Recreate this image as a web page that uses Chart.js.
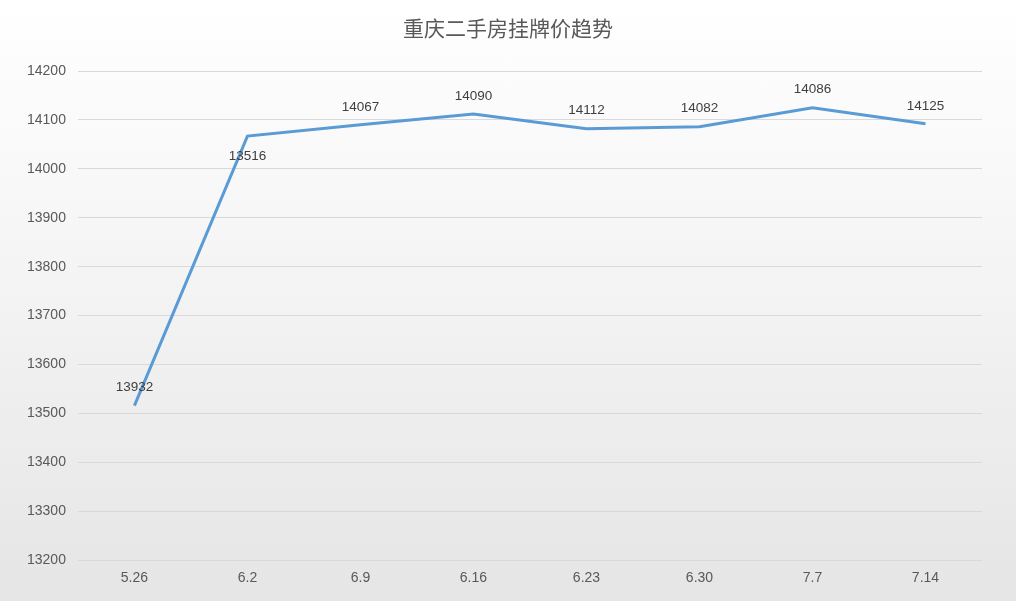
<!DOCTYPE html>
<html><head><meta charset="utf-8">
<script src="https://cdn.jsdelivr.net/npm/chart.js@4/dist/chart.umd.min.js"></script>
<style>
html,body{margin:0;padding:0;}
body{width:1016px;height:601px;background:linear-gradient(to bottom,#ffffff 0%,#f7f7f7 35%,#e5e5e5 100%);overflow:hidden;}
#wrap{position:relative;width:1016px;height:601px;}
</style></head>
<body><div id="wrap"><canvas id="c" width="1016" height="601"></canvas></div>
<script>
const chartTitle = '重庆二手房挂牌价趋势';
const categories = ['5.26','6.2','6.9','6.16','6.23','6.30','7.7','7.14'];
const prices = [13516, 14067, 14090, 14112, 14082, 14086, 14125, 14092];
const pointLabels = ['13932','13516','14067','14090','14112','14082','14086','14125'];
const yTicks = [13200,13300,13400,13500,13600,13700,13800,13900,14000,14100,14200];

const labelPlugin = {
  id:'pointLabels',
  afterDatasetsDraw(chart){
    const ctx = chart.ctx;
    const meta = chart.getDatasetMeta(0);
    ctx.save();
    ctx.font = '13.5px "Liberation Sans", Arial, sans-serif';
    ctx.fillStyle = '#404040';
    ctx.textAlign = 'center';
    ctx.textBaseline = 'middle';
    meta.data.forEach((pt,i)=>{
      const below = i === 1;
      ctx.fillText(pointLabels[i], pt.x, pt.y + (below ? 20 : -18));
    });
    ctx.restore();
  }
};

const titlePlugin = {
  id:'centerTitle',
  afterDraw(chart){
    const ctx = chart.ctx;
    ctx.save();
    ctx.font = '21px "Noto Sans CJK SC", sans-serif';
    ctx.fillStyle = '#595959';
    ctx.textAlign = 'center';
    ctx.textBaseline = 'middle';
    ctx.fillText(chartTitle, chart.width/2, 28);
    ctx.restore();
  }
};

new Chart(document.getElementById('c'), {
  type:'line',
  data:{
    labels:categories,
    datasets:[{
      data:prices,
      borderColor:'#5b9bd5',
      borderWidth:3,
      pointRadius:0,
      tension:0,
      fill:false
    }]
  },
  options:{
    responsive:false,
    devicePixelRatio:1,
    animation:false,
    layout:{padding:{left:15,right:34,top:71,bottom:4}},
    plugins:{
      legend:{display:false},
      tooltip:{enabled:false},
      title:{display:false}
    },
    scales:{
      x:{
        offset:true,
        grid:{display:false,drawTicks:false},
        border:{display:false},
        ticks:{color:'#595959',font:{family:'"Liberation Sans", Arial, sans-serif',size:14},padding:10}
      },
      y:{
        min:13200,max:14200,
        afterBuildTicks(axis){ axis.ticks = yTicks.map(v=>({value:v})); },
        grid:{color:'#d9d9d9',lineWidth:1,drawTicks:false},
        border:{display:false},
        ticks:{color:'#595959',font:{family:'"Liberation Sans", Arial, sans-serif',size:14},padding:12,
          callback:(v)=>String(v)}
      }
    }
  },
  plugins:[labelPlugin,titlePlugin]
});
</script></body></html>
